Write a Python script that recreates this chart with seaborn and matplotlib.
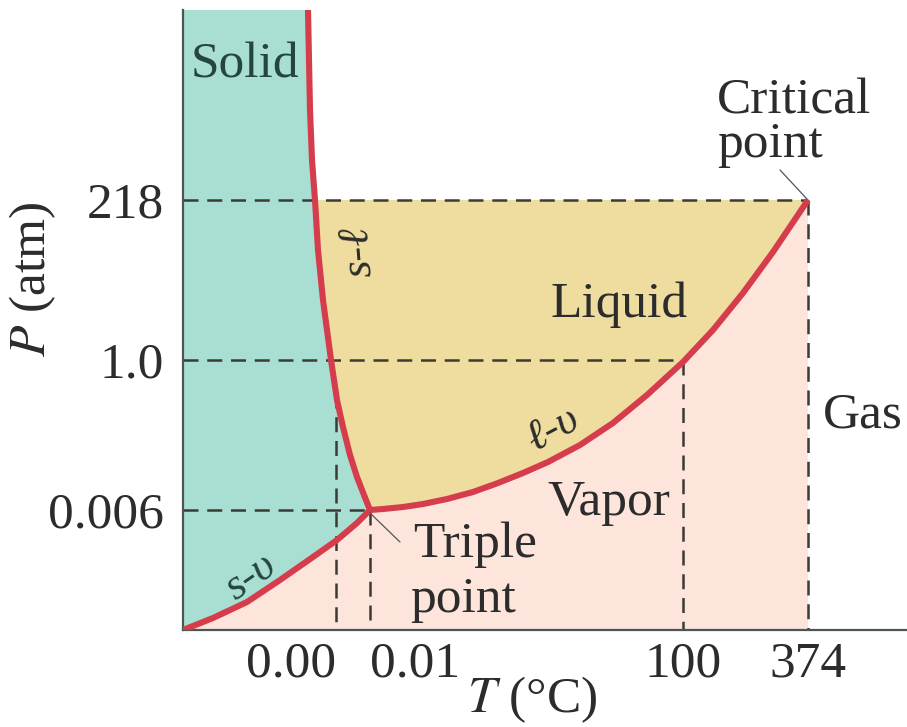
import numpy as np
import pandas as pd
import matplotlib
matplotlib.use("Agg")
import matplotlib.pyplot as plt
import seaborn as sns

# ---- schematic phase-diagram data (schematic units) ----
# solid-liquid (s-l) curve, from top of chart down to triple point
sl_T = [125, 126, 127, 129, 132, 135, 140, 148, 154, 160, 167, 174, 181, 187]
sl_P = [620, 570, 520, 470, 430, 380, 330, 270, 230, 203, 175, 153, 135, 120]
# solid-vapor (s-v) curve, from origin to triple point
sv_T = [0, 30, 64, 97, 130, 154, 174, 187]
sv_P = [0, 12, 28, 50, 73, 90, 107, 120]
# liquid-vapor (l-v) curve, from triple point to critical point
lv_T = [187, 200, 220, 240, 264, 290, 315, 340, 365, 397, 430, 464, 500, 530, 560, 590, 625]
lv_P = [120, 121, 123, 126, 131, 138, 147, 157, 168, 185, 207, 235, 268, 300, 337, 378, 430]

T_tick_pos = [153, 187, 500, 625]
T_tick_labels = ["0.00", "0.01", "100", "374"]
P_tick_pos = [120, 270, 430]
P_tick_labels = ["0.006", "1.0", "218"]

sns.set_theme(style="white")
plt.rcParams["font.family"] = ["Liberation Serif", "DejaVu Serif"]
plt.rcParams["mathtext.fontset"] = "stix"

TEAL = "#a9ded3"
LIQ = "#efdda0"
PINK = "#fde5dc"
RED = "#d53d4c"
DASH = "#3b3b33"
TXT = "#2c2c2c"
FS = 37

fig = plt.figure(figsize=(9.07, 7.27), dpi=100)
ax = fig.add_axes([183 / 907, (727 - 630) / 727, (907 - 183) / 907, 620 / 727])
ax.set_xlim(0, 724)
ax.set_ylim(0, 620)

sl = np.column_stack([sl_T, sl_P])
sv = np.column_stack([sv_T, sv_P])
lv = np.column_stack([lv_T, lv_P])

# regions
teal_poly = np.vstack([[[0, 0], [0, 620]], sl, sv[::-1][1:]])
ax.fill(teal_poly[:, 0], teal_poly[:, 1], color=TEAL, lw=0, zorder=1)
i218 = sl_P.index(P_tick_pos[2])
liq_poly = np.vstack([sl[i218:], lv[1:]])
ax.fill(liq_poly[:, 0], liq_poly[:, 1], color=LIQ, lw=0, zorder=1)
pink_poly = np.vstack([sv, lv[1:], [[lv_T[-1], 0]]])
ax.fill(pink_poly[:, 0], pink_poly[:, 1], color=PINK, lw=0, zorder=1)

# dashed guide lines
dkw = dict(color=DASH, lw=1.8, ls=(0, (6, 3.5)), zorder=2)
ax.plot([0, lv_T[-1]], [P_tick_pos[2]] * 2, **dkw)
ax.plot([0, T_tick_pos[2]], [P_tick_pos[1]] * 2, **dkw)
ax.plot([0, T_tick_pos[1]], [P_tick_pos[0]] * 2, **dkw)
ax.plot([T_tick_pos[0]] * 2, [np.interp(T_tick_pos[0], sl_T, sl_P), 0], **dkw)
ax.plot([T_tick_pos[1]] * 2, [P_tick_pos[0], 0], **dkw)
ax.plot([T_tick_pos[2]] * 2, [P_tick_pos[1], 0], **dkw)
ax.plot([T_tick_pos[3]] * 2, [P_tick_pos[2], 0], **dkw)

# phase boundary curves
for name, T, P in [("s-l", sl_T, sl_P), ("s-v", sv_T, sv_P), ("l-v", lv_T, lv_P)]:
    df = pd.DataFrame({"T": T, "P": P})
    sns.lineplot(data=df, x="T", y="P", sort=False, estimator=None, ax=ax,
                 color=RED, lw=4.4, zorder=4, solid_capstyle="butt",
                 solid_joinstyle="round")

# pointer lines
ax.plot([187, 217], [117, 88], color="#555555", lw=0.9, zorder=5)
ax.plot([597, 624], [460, 431], color="#555555", lw=0.9, zorder=5)

# labels
ax.text(62, 565, "Solid", fontsize=FS, color="#24463f", ha="center", va="center", zorder=6)
ax.text(534, 516, "Critical", fontsize=FS, color=TXT, ha="left", va="baseline")
ax.text(534, 473, "point", fontsize=FS, color=TXT, ha="left", va="baseline")
ax.text(367, 313, "Liquid", fontsize=FS, color=TXT, ha="left", va="baseline")
ax.text(640, 203, "Gas", fontsize=FS, color=TXT, ha="left", va="baseline")
ax.text(364, 115, "Vapor", fontsize=FS, color=TXT, ha="left", va="baseline")
ax.text(230, 73, "Triple", fontsize=FS, color=TXT, ha="left", va="baseline")
ax.text(227, 18, "point", fontsize=FS, color=TXT, ha="left", va="baseline")

ikw = dict(fontsize=32, style="italic", ha="center", va="center", zorder=6)
ax.text(175, 378, "s-ℓ", rotation=95, color="#2c2c2c", **ikw)
ax.text(68, 53, "s-υ", rotation=35, color="#24463f", **ikw)
ax.text(370, 200, "ℓ-υ", rotation=28, color="#2c2c2c", **ikw)

# axes styling
ax.set_xticks(T_tick_pos, T_tick_labels)
ax.set_yticks(P_tick_pos, P_tick_labels)
ax.tick_params(axis="both", length=0, labelsize=FS, colors=TXT)
ax.tick_params(axis="y", pad=14)
ax.tick_params(axis="x", pad=8)
xl = ax.get_xticklabels()
xl[0].set_ha("right")
xl[1].set_ha("left")
for s in ["top", "right"]:
    ax.spines[s].set_visible(False)
for s in ["left", "bottom"]:
    ax.spines[s].set_color("#4b5552")
    ax.spines[s].set_linewidth(1.6)
ax.set_xlabel("$T$ (°C)", fontsize=FS, color=TXT)
ax.set_ylabel("$P$ (atm)", fontsize=FS, color=TXT)
ax.xaxis.set_label_coords(0.482, -0.072)
ax.yaxis.set_label_coords(-0.172, 0.565)
ax.grid(False)
ax.set_facecolor("white")

fig.savefig("out.png", dpi=100)
